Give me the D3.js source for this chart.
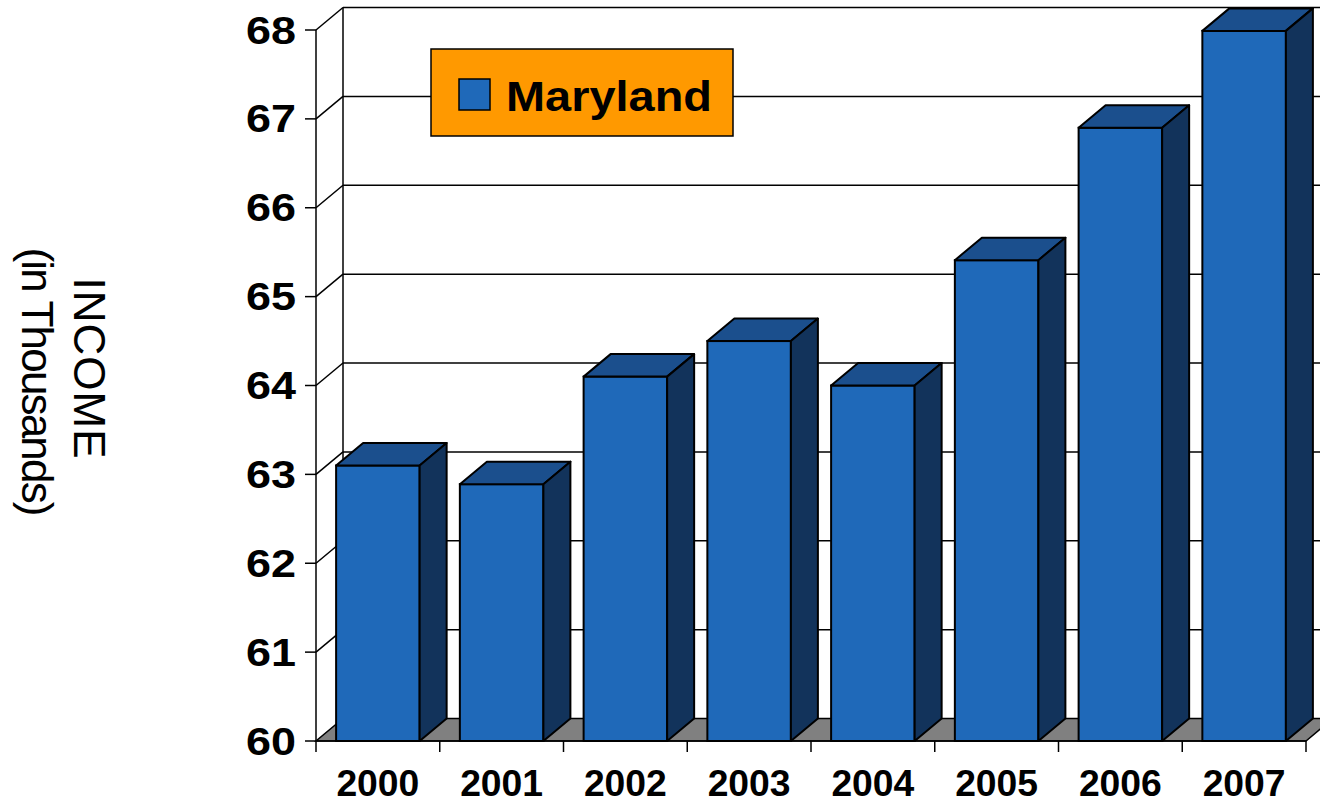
<!DOCTYPE html>
<html>
<head>
<meta charset="utf-8">
<script src="https://cdn.jsdelivr.net/npm/d3@7/dist/d3.min.js"></script>
<style>
  body { margin: 0; background: #fff; }
  svg { display: block; font-family: Arial, "Liberation Sans", sans-serif; }
</style>
</head>
<body>
<svg id="chart" width="1320" height="804"></svg>
<script>
// data
var years = ["2000", "2001", "2002", "2003", "2004", "2005", "2006", "2007"];
var income = [63.1, 62.89, 64.1, 64.5, 64.0, 65.41, 66.9, 67.99];
var yTicks = [60, 61, 62, 63, 64, 65, 66, 67, 68];
var seriesName = "Maryland";

var svg = d3.select("#chart");

var plotLeft = 316, plotRight = 1306, plotTop = 30, plotBottom = 741;
var dx = 27, dy = -22.5;   // depth of the 3d box

var x = d3.scaleBand().domain(years).range([plotLeft, plotRight])
  .paddingInner(0.325).paddingOuter(0.1625);
var y = d3.scaleLinear().domain([60, 68]).range([plotBottom, plotTop]);

var frontColor = "#1f69b9", topColor = "#1b4f8d", sideColor = "#12335b";

// floor
svg.append("polygon")
  .attr("points", [[plotLeft, plotBottom], [plotRight, plotBottom], [plotRight + dx, plotBottom + dy], [plotLeft + dx, plotBottom + dy]].join(" "))
  .attr("fill", "#808080")
  .attr("stroke", "#000")
  .attr("stroke-width", 1.5);

// back wall gridlines + side wall diagonals
yTicks.forEach(function(t) {
  if (t == 60) return;
  var yy = y(t);
  svg.append("line")
    .attr("x1", plotLeft + dx).attr("y1", yy + dy)
    .attr("x2", plotRight + dx).attr("y2", yy + dy)
    .attr("stroke", "#000").attr("stroke-width", 1.5);
  svg.append("line")
    .attr("x1", plotLeft).attr("y1", yy)
    .attr("x2", plotLeft + dx).attr("y2", yy + dy)
    .attr("stroke", "#000").attr("stroke-width", 1.5);
});

svg.append("line")
  .attr("x1", plotLeft + dx).attr("y1", y(68) + dy)
  .attr("x2", plotLeft + dx).attr("y2", y(60) + dy)
  .attr("stroke", "#000").attr("stroke-width", 1.5);

// front axis + ticks
svg.append("line")
  .attr("x1", plotLeft).attr("y1", plotTop).attr("x2", plotLeft).attr("y2", plotBottom + 11)
  .attr("stroke", "#000").attr("stroke-width", 1.5);
svg.append("line")
  .attr("x1", plotLeft).attr("y1", plotBottom).attr("x2", plotRight).attr("y2", plotBottom)
  .attr("stroke", "#000").attr("stroke-width", 1.5);

svg.selectAll(".ytick").data(yTicks).enter().append("line")
  .attr("x1", plotLeft - 11).attr("x2", plotLeft)
  .attr("y1", function(d) { return y(d); })
  .attr("y2", function(d) { return y(d); })
  .attr("stroke", "#000").attr("stroke-width", 1.5);

svg.selectAll(".xtick").data(years).enter().append("line")
  .attr("x1", function(d) { return x(d) - x.step() * x.paddingInner() / 2 + x.step(); })
  .attr("x2", function(d) { return x(d) - x.step() * x.paddingInner() / 2 + x.step(); })
  .attr("y1", plotBottom).attr("y2", plotBottom + 11)
  .attr("stroke", "#000").attr("stroke-width", 1.5);

svg.selectAll(".ylabel").data(yTicks).enter().append("text")
  .attr("x", 296)
  .attr("y", function(d) { return y(d) + 13.5; })
  .attr("text-anchor", "end")
  .attr("font-weight", "bold")
  .attr("font-size", 39)
  .attr("textLength", 50)
  .attr("lengthAdjust", "spacingAndGlyphs")
  .text(function(d) { return d; });

svg.selectAll(".xlabel").data(years).enter().append("text")
  .attr("x", function(d) { return x(d) + x.bandwidth() / 2; })
  .attr("y", 796)
  .attr("text-anchor", "middle")
  .attr("font-weight", "bold")
  .attr("font-size", 36)
  .attr("textLength", 83)
  .attr("lengthAdjust", "spacingAndGlyphs")
  .text(function(d) { return d; });

// bars
var bars = svg.selectAll(".bar").data(income).enter().append("g");
var bw = x.bandwidth();

bars.append("rect")
  .attr("x", function(d, i) { return x(years[i]); })
  .attr("y", function(d) { return y(d); })
  .attr("width", bw)
  .attr("height", function(d) { return plotBottom - y(d); })
  .attr("fill", frontColor)
  .attr("stroke", "#000").attr("stroke-width", 2);

bars.append("polygon")
  .attr("points", function(d, i) {
    var x0 = x(years[i]), y0 = y(d);
    return [[x0, y0], [x0 + bw, y0], [x0 + bw + dx, y0 + dy], [x0 + dx, y0 + dy]].join(" ");
  })
  .attr("fill", topColor)
  .attr("stroke", "#000").attr("stroke-width", 2).attr("stroke-linejoin", "round");

bars.append("polygon")
  .attr("points", function(d, i) {
    var x1 = x(years[i]) + bw, y0 = y(d);
    return [[x1, y0], [x1 + dx, y0 + dy], [x1 + dx, plotBottom + dy], [x1, plotBottom]].join(" ");
  })
  .attr("fill", sideColor)
  .attr("stroke", "#000").attr("stroke-width", 2).attr("stroke-linejoin", "round");

// legend
var legend = svg.append("g");
legend.append("rect")
  .attr("x", 431).attr("y", 49).attr("width", 302).attr("height", 87)
  .attr("fill", "#ff9900").attr("stroke", "#000").attr("stroke-width", 1.5);
legend.append("rect")
  .attr("x", 459).attr("y", 79).attr("width", 31).attr("height", 31)
  .attr("fill", frontColor).attr("stroke", "#000").attr("stroke-width", 1.5);
legend.append("text")
  .attr("x", 506).attr("y", 111)
  .attr("font-weight", "bold")
  .attr("font-size", 42)
  .attr("textLength", 206)
  .attr("lengthAdjust", "spacingAndGlyphs")
  .text(seriesName);

// axis title
var title = svg.append("text")
  .attr("transform", "translate(74,368) rotate(90)")
  .attr("text-anchor", "middle")
  .attr("font-size", 44);
title.append("tspan").attr("x", 0).attr("y", 0).attr("textLength", 181).text("INCOME");
title.append("tspan").attr("x", 14).attr("y", 52).attr("textLength", 269).text("(in Thousands)");
</script>
</body>
</html>
